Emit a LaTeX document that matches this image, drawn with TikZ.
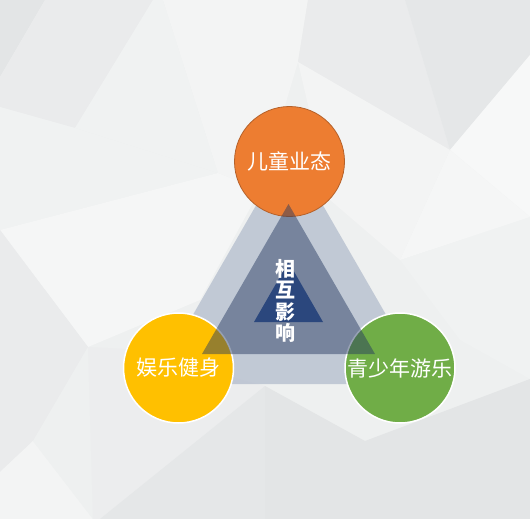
\documentclass[tikz,border=0pt]{standalone}
\usepackage{fontspec}
\newfontfamily\cjk{Noto Sans CJK SC}

\definecolor{kidsorange}{HTML}{ED7D31}
\definecolor{kidsedge}{HTML}{B5612A}
\definecolor{sportyellow}{HTML}{FFC000}
\definecolor{teengreen}{HTML}{70AD47}
\definecolor{outerblue}{HTML}{2F4A7F}
\definecolor{middleblue}{HTML}{243860}
\definecolor{innerblue}{HTML}{2B477D}
\definecolor{bgdark}{HTML}{E3E5E6}
\definecolor{bglight}{HTML}{F7F8F8}

\begin{document}
\begin{tikzpicture}[x=1pt, y=-1pt,
    topic/.style={circle, minimum size=110pt, inner sep=0pt, line width=1.5pt, draw=white, text=white, font=\cjk\fontsize{21}{24}\selectfont}]
    \useasboundingbox (0,0) rectangle (530,519);

    % background
    \fill[bgdark!44!bglight] (0,0) rectangle (530,519);
    \fill[bgdark] (0,0) -- (45,0) -- (0,77) -- cycle;
    \fill[bgdark!67!bglight] (45,0) -- (153,0) -- (75,128) -- (0,107) -- (0,77) -- cycle;
    \fill[bgdark!33!bglight] (153,0) -- (163,0) -- (218,173) -- (75,128) -- cycle;
    \fill[bgdark!22!bglight] (163,0) -- (308,0) -- (298,62) -- (260,190) -- (218,173) -- cycle;
    \fill[bgdark!33!bglight] (0,107) -- (75,128) -- (218,173) -- (0,230) -- cycle;
    \fill[bgdark!11!bglight] (0,230) -- (218,173) -- (260,190) -- (200,300) -- (88,347) -- cycle;
    \fill[bgdark!67!bglight] (0,230) -- (88,347) -- (33,441) -- (0,472) -- cycle;
    \fill[bgdark!22!bglight] (0,472) -- (33,441) -- (93,519) -- (0,519) -- cycle;
    \fill[bgdark!44!bglight] (33,441) -- (88,347) -- (93,519) -- cycle;
    \fill[bgdark!56!bglight] (88,347) -- (127,349) -- (265,386) -- (100,519) -- (93,519) -- cycle;
    \fill[bgdark!89!bglight] (265,386) -- (265,519) -- (100,519) -- cycle;
    \fill[bgdark] (265,386) -- (365,441) -- (530,379) -- (530,519) -- (265,519) -- cycle;
    \fill[bgdark!33!bglight] (400,260) -- (530,217) -- (530,379) -- (460,340) -- cycle;
    \fill[bgdark!67!bglight] (308,0) -- (405,0) -- (450,150) -- (298,62) -- cycle;
    \fill[bgdark!89!bglight] (405,0) -- (530,0) -- (530,55) -- (450,150) -- cycle;
    \fill[bglight] (450,150) -- (530,55) -- (530,217) -- cycle;
    \fill[bgdark!22!bglight] (298,62) -- (450,150) -- (400,260) -- (330,200) -- cycle;
    \fill[bgdark!11!bglight] (450,150) -- (530,217) -- (400,260) -- cycle;

    % outer triangle
    \fill[outerblue, opacity=0.23] (289.5,147.4) -- (153,384) -- (426,384) -- cycle;

    % topics
    \node[topic, draw=kidsedge, line width=0.8pt, fill=kidsorange] (kids) at (289.5,161.5) {\raisebox{-3pt}{儿童业态}};
    \node[topic, fill=sportyellow] (sport) at (178.5,368) {\raisebox{-3pt}{娱乐健身}};
    \node[topic, fill=teengreen] (teens) at (400,368) {\raisebox{-3pt}{青少年游乐}};

    % middle and inner triangles
    \fill[middleblue, opacity=0.47] (288.5,204) -- (202,354) -- (375,354) -- cycle;
    \fill[innerblue] (288.5,262) -- (254,322) -- (323,322) -- cycle;

    \node[align=center, text=white, font=\cjk\bfseries\fontsize{20}{21.5}\selectfont] (effect) at (285,301) {相\\互\\影\\响};
\end{tikzpicture}
\end{document}
